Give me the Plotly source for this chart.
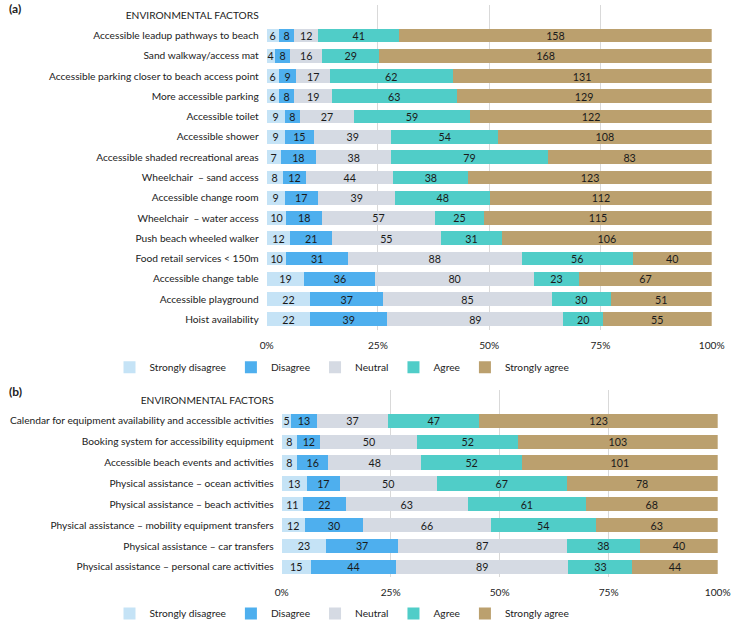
import plotly.graph_objects as go

header = "ENVIRONMENTAL FACTORS"
levels = ["Strongly disagree", "Disagree", "Neutral", "Agree", "Strongly agree"]
colors = ["#C5E3F6", "#4EAFEE", "#D5DAE3", "#50CDC8", "#BBA06E"]

cats_a = ["Accessible leadup pathways to beach", "Sand walkway/access mat",
          "Accessible parking closer to beach access point", "More accessible parking",
          "Accessible toilet", "Accessible shower", "Accessible shaded recreational areas",
          "Wheelchair  \u2013 sand access", "Accessible change room",
          "Wheelchair  \u2013 water access", "Push beach wheeled walker",
          "Food retail services < 150m", "Accessible change table",
          "Accessible playground", "Hoist availability"]
sd_a = [6, 4, 6, 6, 9, 9, 7, 8, 9, 10, 12, 10, 19, 22, 22]
d_a = [8, 8, 9, 8, 8, 15, 18, 12, 17, 18, 21, 31, 36, 37, 39]
n_a = [12, 16, 17, 19, 27, 39, 38, 44, 39, 57, 55, 88, 80, 85, 89]
ag_a = [41, 29, 62, 63, 59, 54, 79, 38, 48, 25, 31, 56, 23, 30, 20]
sa_a = [158, 168, 131, 129, 122, 108, 83, 123, 112, 115, 106, 40, 67, 51, 55]

cats_b = ["Calendar for equipment availability and accessible activities",
          "Booking system for accessibility equipment",
          "Accessible beach events and activities",
          "Physical assistance \u2013 ocean activities",
          "Physical assistance \u2013 beach activities",
          "Physical assistance \u2013 mobility equipment transfers",
          "Physical assistance \u2013 car transfers",
          "Physical assistance \u2013 personal care activities"]
sd_b = [5, 8, 8, 13, 11, 12, 23, 15]
d_b = [13, 12, 16, 17, 22, 30, 37, 44]
n_b = [37, 50, 48, 50, 63, 66, 87, 89]
ag_b = [47, 52, 52, 67, 61, 54, 38, 33]
sa_b = [123, 103, 101, 78, 68, 63, 40, 44]

x_ticks = [0, 25, 50, 75, 100]
x_ticktext = ["0%", "25%", "50%", "75%", "100%"]

FONT = "Lato"
FS = 10.2
W, H = 733, 628


def px(x):
    return x / W


def py(y):
    return 1 - y / H


fig = go.Figure()


def add_panel(cats, series, xa, ya, legend):
    ycats = [header] + cats
    for name, col, vals in zip(levels, colors, series):
        fig.add_trace(go.Bar(
            y=ycats, x=[None] + vals, name=name, orientation="h",
            marker=dict(color=col, line=dict(width=0)),
            text=[""] + [str(v) for v in vals], textposition="inside",
            insidetextanchor="middle", textangle=0, constraintext="none",
            textfont=dict(family=FONT, size=FS + 0.5, color="#1a1a1a"),
            xaxis=xa, yaxis=ya, legend=legend, hoverinfo="skip",
        ))


add_panel(cats_a, [sd_a, d_a, n_a, ag_a, sa_a], "x", "y", "legend")
add_panel(cats_b, [sd_b, d_b, n_b, ag_b, sa_b], "x2", "y2", "legend2")

xcommon = dict(range=[0, 100], tickvals=x_ticks, ticktext=x_ticktext,
               showgrid=True, gridcolor="#D9D9D9", gridwidth=1, zeroline=False,
               showline=False, ticks="", automargin=False, ticklabelstandoff=8,
               tickfont=dict(family=FONT, size=FS, color="#222222"), fixedrange=True)
ycommon = dict(showgrid=False, showline=False, ticks="", automargin=False, fixedrange=True,
               tickfont=dict(family=FONT, size=FS, color="#222222"), ticklabelstandoff=7)

fig.update_layout(
    width=W, height=H,
    margin=dict(l=0, r=0, t=0, b=0),
    paper_bgcolor="white", plot_bgcolor="white",
    barmode="stack", barnorm="percent", bargap=0.32,
    font=dict(family=FONT, size=FS, color="#222222"),
    hovermode=False,
    xaxis=dict(domain=[px(266.7), px(711.7)], anchor="y", **xcommon),
    yaxis=dict(domain=[py(334.3), py(5.1)], anchor="x", range=[15.5, -0.5], **ycommon),
    xaxis2=dict(domain=[px(281.7), px(717.7)], anchor="y2", **xcommon),
    yaxis2=dict(domain=[py(585.6), py(395.3)], anchor="x2", range=[8.5, -0.5], **ycommon),
    legend=dict(orientation="h", x=px(342), y=py(358), xanchor="center", yanchor="top",
                font=dict(family=FONT, size=FS), itemwidth=30, traceorder="normal",
                itemclick=False, itemdoubleclick=False),
    legend2=dict(orientation="h", x=px(342), y=py(608), xanchor="center", yanchor="top",
                 font=dict(family=FONT, size=FS), itemwidth=30, traceorder="normal",
                 itemclick=False, itemdoubleclick=False),
    showlegend=True,
    annotations=[
        dict(text="<b>(a)</b>", x=px(7), y=py(9), xref="paper", yref="paper",
             xanchor="left", yanchor="middle", showarrow=False, font=dict(family=FONT, size=12)),
        dict(text="<b>(b)</b>", x=px(7), y=py(397), xref="paper", yref="paper",
             xanchor="left", yanchor="middle", showarrow=False, font=dict(family=FONT, size=12)),
    ],
)

fig.write_html(
    "out.html",
    config={"displayModeBar": False},
    post_script=(
        "document.documentElement.style.margin='0';"
        "document.documentElement.style.overflow='hidden';"
        "document.body.style.margin='0';"
        "document.body.style.overflow='hidden';"
    ),
)
